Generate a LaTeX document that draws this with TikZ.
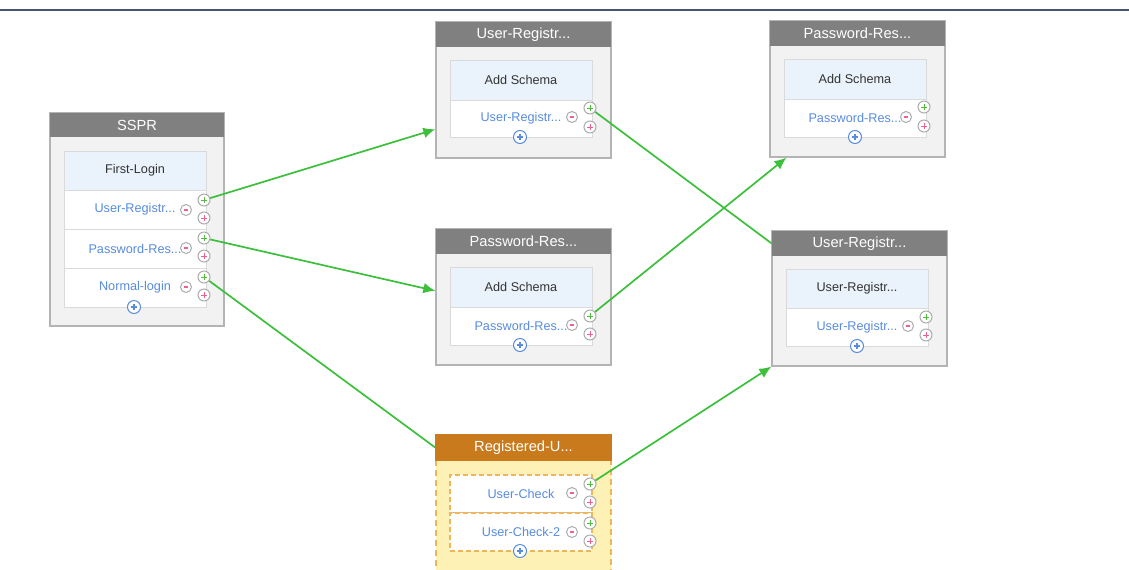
\documentclass[tikz,border=0pt]{standalone}
\usepackage{fontspec}
\setmainfont{Liberation Sans}
\usetikzlibrary{arrows.meta}
\definecolor{hdgrey}{RGB}{128,128,128}
\definecolor{panelfill}{RGB}{242,242,242}
\definecolor{panelline}{RGB}{180,180,180}
\definecolor{rowline}{RGB}{218,218,218}
\definecolor{rowblue}{RGB}{234,243,252}
\definecolor{linkblue}{RGB}{88,140,222}
\definecolor{textgrey}{RGB}{51,51,51}
\definecolor{wiregreen}{RGB}{60,192,60}
\definecolor{okgreen}{RGB}{80,190,60}
\definecolor{errpink}{RGB}{240,96,140}
\definecolor{hdorange}{RGB}{200,122,28}
\definecolor{bodyyellow}{RGB}{253,241,181}
\definecolor{dashorange}{RGB}{240,180,90}
\definecolor{ruleslate}{RGB}{70,84,112}
\newdimen\px \px=0.75pt
\tikzset{
  panel/.style={draw=panelline,fill=panelfill,line width=1.3\px,minimum width=175\px,
                minimum height=136\px,inner sep=0pt},
  header/.style={fill=hdgrey,text=white,minimum width=175\px,minimum height=25\px,
                 inner sep=0pt,font=\fontsize{11}{13}\selectfont},
  titlerow/.style={draw=rowline,line width=1\px,fill=rowblue,text=textgrey,minimum width=142\px,
                   minimum height=40\px,inner sep=0pt,font=\fontsize{9.5}{11}\selectfont},
  linkrow/.style={titlerow,fill=white,text=linkblue,minimum height=38\px},
  dashrow/.style={linkrow,draw=dashorange,line width=1.4\px,dash pattern=on 5\px off 3\px},
  port/.style={circle,draw=gray!65,fill=white,line width=1\px,minimum size=12\px,inner sep=0pt},
  plusport/.style={port,path picture={
      \draw[#1,line width=1\px]
        ([xshift=-2.8\px]path picture bounding box.center) -- ([xshift=2.8\px]path picture bounding box.center)
        ([yshift=-2.8\px]path picture bounding box.center) -- ([yshift=2.8\px]path picture bounding box.center);}},
  okport/.style={plusport=okgreen},
  errport/.style={plusport=errpink},
  minusport/.style={port,minimum size=11\px,path picture={
      \draw[errpink,line width=1.1\px]
        ([xshift=-2.4\px]path picture bounding box.center) -- ([xshift=2.4\px]path picture bounding box.center);}},
  addbtn/.style={port,draw=linkblue,minimum size=13\px,path picture={
      \draw[linkblue,line width=1.2\px]
        ([xshift=-3\px]path picture bounding box.center) -- ([xshift=3\px]path picture bounding box.center)
        ([yshift=-3\px]path picture bounding box.center) -- ([yshift=3\px]path picture bounding box.center);}},
  flow/.style={-{Latex[length=9pt,width=8pt]},wiregreen,line width=1.7\px},
  hiddenflow/.style={wiregreen,line width=1.7\px},
}
\begin{document}
\begin{tikzpicture}[x=0.75pt,y=-0.75pt]
  \path[use as bounding box] (0,0) rectangle (1129,569);
  \draw[ruleslate,line width=1.3\px] (0,10) -- (1129,10);

  % SSPR
  \node[panel,minimum width=174\px,minimum height=213\px] (sspr) at (137,219.5) {};
  \node[header,minimum width=174\px,minimum height=24\px] (sspr-hd) at (137,125) {SSPR};
  \node[titlerow,minimum height=39\px] (sspr-r0) at (135,170.5) {First-Login};
  \node[linkrow,minimum height=39\px] (sspr-r1) at (135,209.5) {User-Registr...};
  \node[linkrow,minimum height=39\px] (sspr-r2) at (135,248.5) {Password-Res...};
  \node[linkrow,minimum height=39\px] (sspr-r3) at (135,287.5) {Normal-login};
  \foreach \i/\yy in {1/210,2/248,3/287}{
    \node[minusport] (sspr-m\i) at (186,\yy) {};
    \node[okport] (sspr-o\i) at (204,\yy-10) {};
    \node[errport] (sspr-e\i) at (204,\yy+8) {};
  }
  \node[addbtn] (sspr-add) at (134,307) {};

  % User-Registr (top)
  \node[panel] (ureg) at (523.5,90) {};
  \node[header] (ureg-hd) at (523.5,34.5) {User-Registr...};
  \node[titlerow] (ureg-r0) at (521,80) {Add Schema};
  \node[linkrow,minimum height=37\px] (ureg-r1) at (521,118.5) {User-Registr...};
  \node[minusport] (ureg-m1) at (572,117) {};
  \node[okport] (ureg-o1) at (590,108) {};
  \node[errport] (ureg-e1) at (590,127) {};
  \node[addbtn] (ureg-add) at (520,137) {};

  % Password-Res (middle)
  \node[panel] (pwd) at (523.5,297) {};
  \node[header] (pwd-hd) at (523.5,241.5) {Password-Res...};
  \node[titlerow] (pwd-r0) at (521,287) {Add Schema};
  \node[linkrow] (pwd-r1) at (521,326) {Password-Res...};
  \node[minusport] (pwd-m1) at (572,325) {};
  \node[okport] (pwd-o1) at (590,316) {};
  \node[errport] (pwd-e1) at (590,334) {};
  \node[addbtn] (pwd-add) at (520,345) {};

  % Registered-U (bottom)
  \node[panel,fill=bodyyellow,draw=dashorange,line width=1.6\px,dash pattern=on 6\px off 4\px,
        minimum height=145\px] (regu) at (523.5,507.5) {};
  \node[header,fill=hdorange,draw=hdorange,line width=1.6\px] (regu-hd) at (523.5,447.5) {Registered-U...};
  \node[dashrow] (regu-r1) at (521,494) {User-Check};
  \node[dashrow] (regu-r2) at (521,532) {User-Check-2};
  \foreach \i/\yy in {1/493,2/532}{
    \node[minusport] (regu-m\i) at (572,\yy) {};
    \node[okport] (regu-o\i) at (590,\yy-9) {};
    \node[errport] (regu-e\i) at (590,\yy+9) {};
  }
  \node[addbtn] (regu-add) at (520,551) {};

  % Password-Res (right)
  \node[panel] (pwdr) at (857.5,89) {};
  \node[header] (pwdr-hd) at (857.5,33.5) {Password-Res...};
  \node[titlerow] (pwdr-r0) at (855,79) {Add Schema};
  \node[linkrow] (pwdr-r1) at (855,118) {Password-Res...};
  \node[minusport] (pwdr-m1) at (906,117) {};
  \node[okport] (pwdr-o1) at (924,107) {};
  \node[errport] (pwdr-e1) at (924,126) {};
  \node[addbtn] (pwdr-add) at (855,137) {};

  % User-Registr (right)
  \node[panel,minimum height=135\px] (uregr) at (859.5,298.5) {};
  \node[header] (uregr-hd) at (859.5,243.5) {User-Registr...};
  \node[titlerow,minimum height=39\px] (uregr-r0) at (857,288.5) {User-Registr...};
  \node[linkrow] (uregr-r1) at (857,327) {User-Registr...};
  \node[minusport] (uregr-m1) at (908,326) {};
  \node[okport] (uregr-o1) at (926,317) {};
  \node[errport] (uregr-e1) at (926,335) {};
  \node[addbtn] (uregr-add) at (857,346) {};

  % links
  \draw[flow] (sspr-o1) -- (ureg.204);
  \draw[flow] (sspr-o2) -- (pwd.176);
  \draw[hiddenflow] (sspr-o3) -- (regu-hd.west);
  \draw[hiddenflow] (ureg-o1) -- (uregr-hd.west);
  \draw[flow] (pwd-o1) -- (pwdr.224);
  \draw[flow] (regu-o1) -- (uregr.south west);
\end{tikzpicture}
\end{document}
